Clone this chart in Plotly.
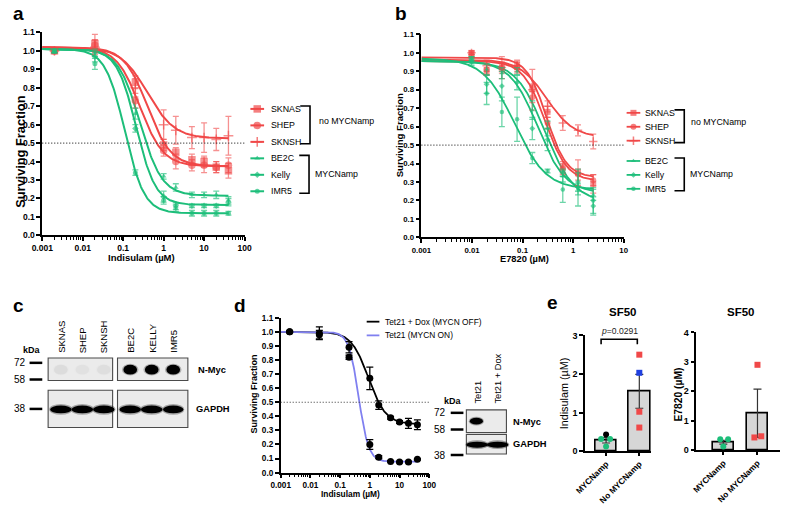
import numpy as np
import plotly.graph_objects as go

W, H = 788, 510
FONT = "Liberation Sans, Arial, sans-serif"
RED = "#F04848"
GREEN = "#1DBE7A"
RED_T = "rgba(240,72,72,0.6)"
GREEN_T = "rgba(29,190,122,0.65)"
BLUE = "#8080F0"

# ---------------- Data ----------------
cell_lines = ["SKNAS", "SHEP", "SKNSH", "BE2C", "Kelly", "IMR5"]
cell_groups = ["no MYCNamp", "no MYCNamp", "no MYCNamp", "MYCNamp", "MYCNamp", "MYCNamp"]

# panel a: Indisulam
conc_a = [0.002, 0.02, 0.2, 1, 2, 5, 10, 20, 40]
ind_SKNAS = [1.00, 1.04, 0.83, 0.49, 0.45, 0.41, 0.40, 0.37, 0.35]
ind_SHEP = [1.00, 1.03, 0.73, 0.46, 0.40, 0.38, 0.38, 0.37, 0.38]
ind_SKNSH = [1.00, 1.02, 0.80, 0.60, 0.57, 0.53, 0.53, 0.52, 0.54]
ind_BE2C = [1.00, 0.99, 0.66, 0.32, 0.26, 0.22, 0.22, 0.22, 0.19]
ind_Kelly = [1.00, 0.97, 0.58, 0.21, 0.16, 0.16, 0.16, 0.16, 0.18]
ind_IMR5 = [1.00, 0.93, 0.34, 0.19, 0.15, 0.12, 0.12, 0.12, 0.12]
ind_SKNAS_err = [0.01, 0.05, 0.035, 0.03, 0.025, 0.03, 0.03, 0.03, 0.04]
ind_SHEP_err = [0.01, 0.03, 0.04, 0.03, 0.04, 0.03, 0.04, 0.03, 0.04]
ind_SKNSH_err = [0.01, 0.04, 0.05, 0.08, 0.075, 0.06, 0.08, 0.06, 0.105]
ind_BE2C_err = [0.01, 0.02, 0.03, 0.015, 0.02, 0.015, 0.015, 0.02, 0.02]
ind_Kelly_err = [0.01, 0.03, 0.02, 0.03, 0.02, 0.01, 0.01, 0.01, 0.02]
ind_IMR5_err = [0.01, 0.03, 0.015, 0.02, 0.02, 0.015, 0.015, 0.015, 0.01]
# fitted curve parameters (top, bottom, IC50, Hill)
ind_top = [1.02, 1.02, 1.02, 1.01, 1.01, 1.01]
ind_bottom = [0.375, 0.375, 0.525, 0.215, 0.165, 0.12]
ind_ic50 = [0.40, 0.26, 0.40, 0.26, 0.21, 0.11]
ind_hill = [1.5, 1.5, 1.3, 1.6, 1.8, 1.8]

# panel b: E7820
conc_b = [0.0098, 0.0195, 0.039, 0.078, 0.156, 0.3125, 0.625, 1.25, 2.5]
e78_SKNAS = [1.00, 0.90, 0.92, 0.93, 0.81, 0.68, 0.38, 0.35, 0.29]
e78_SHEP = [0.99, 0.91, 0.92, 0.92, 0.76, 0.62, 0.37, 0.34, 0.31]
e78_SKNSH = [1.00, 0.93, 0.92, 0.93, 0.80, 0.71, 0.62, 0.58, 0.52]
e78_BE2C = [0.97, 0.91, 0.89, 0.90, 0.69, 0.59, 0.33, 0.26, 0.23]
e78_Kelly = [0.96, 0.83, 0.82, 0.84, 0.59, 0.53, 0.35, 0.30, 0.17]
e78_IMR5 = [0.95, 0.78, 0.68, 0.64, 0.43, 0.36, 0.26, 0.27, 0.20]
e78_SKNAS_err = [0.01, 0.02, 0.06, 0.03, 0.02, 0.03, 0.03, 0.07, 0.05]
e78_SHEP_err = [0.01, 0.03, 0.03, 0.03, 0.03, 0.03, 0.03, 0.03, 0.03]
e78_SKNSH_err = [0.01, 0.03, 0.02, 0.02, 0.11, 0.03, 0.04, 0.03, 0.04]
e78_BE2C_err = [0.01, 0.03, 0.03, 0.02, 0.05, 0.04, 0.03, 0.03, 0.03]
e78_Kelly_err = [0.02, 0.05, 0.08, 0.04, 0.06, 0.06, 0.02, 0.05, 0.05]
e78_IMR5_err = [0.02, 0.06, 0.08, 0.12, 0.03, 0.01, 0.07, 0.10, 0.07]
e78_top = [0.975, 0.955, 0.965, 0.955, 0.955, 0.97]
e78_bottom = [0.325, 0.305, 0.54, 0.24, 0.19, 0.26]
e78_ic50 = [0.30, 0.28, 0.30, 0.20, 0.28, 0.07]
e78_hill = [2.2, 2.0, 1.6, 1.6, 1.5, 1.4]

# panel d: Tet21
conc_d = [0.002, 0.02, 0.2, 1, 2, 5, 10, 20, 40]
tet_names = ["Tet21 + Dox (MYCN OFF)", "Tet21 (MYCN ON)"]
tet_off = [1.00, 0.99, 0.89, 0.67, 0.48, 0.39, 0.36, 0.35, 0.34]
tet_off_err = [0.005, 0.045, 0.04, 0.08, 0.03, 0.01, 0.01, 0.035, 0.035]
tet_on = [1.00, 0.98, 0.82, 0.20, 0.11, 0.08, 0.075, 0.075, 0.095]
tet_on_err = [0.005, 0.03, 0.015, 0.035, 0.01, 0.005, 0.005, 0.005, 0.005]
tet_top = [1.0, 1.0]
tet_bottom = [0.345, 0.078]
tet_ic50 = [0.90, 0.42]
tet_hill = [1.5, 2.6]

# panel e: SF50
e_categories = ["MYCNamp", "No MYCNamp"]
sf50_ind_mean = [0.28, 1.55]
sf50_ind_sem = [0.07, 0.44]
sf50_ind_mycn = [0.43, 0.31, 0.31, 0.12]
sf50_ind_mycn_colors = ["black", GREEN, GREEN, GREEN]
sf50_ind_nomycn = [2.50, 2.03, 1.02, 0.61]
sf50_ind_nomycn_colors = [RED, "#1F3FE0", RED, RED]
sf50_e78_mean = [0.27, 1.25]
sf50_e78_sem = [0.065, 0.82]
sf50_e78_mycn = [0.37, 0.37, 0.12]
sf50_e78_nomycn = [2.90, 0.43, 0.47]
p_value_text = "=0.0291"

# western blots
blot_c_lanes = ["SKNAS", "SHEP", "SKNSH", "BE2C", "KELLY", "IMR5"]
blot_c_nmyc = [0.05, 0.03, 0.04, 1.0, 1.0, 1.0]
blot_c_gapdh = [1.0, 1.0, 1.0, 1.0, 1.0, 0.95]
blot_d_lanes = ["Tet21", "Tet21 + Dox"]
blot_d_nmyc = [1.0, 0.0]
blot_d_gapdh = [1.0, 1.0]
kda_c = ["72", "58", "38"]
kda_d = ["72", "58", "38"]

# ---------------- helpers ----------------
def fx(p):
    return p / W


def fy(p):
    return 1 - p / H


def fourpl(x, top, bottom, ic50, hill):
    return bottom + (top - bottom) / (1 + (x / ic50) ** hill)


fig = go.Figure()

series_a = [ind_SKNAS, ind_SHEP, ind_SKNSH, ind_BE2C, ind_Kelly, ind_IMR5]
err_a = [ind_SKNAS_err, ind_SHEP_err, ind_SKNSH_err, ind_BE2C_err, ind_Kelly_err, ind_IMR5_err]
series_b = [e78_SKNAS, e78_SHEP, e78_SKNSH, e78_BE2C, e78_Kelly, e78_IMR5]
err_b = [e78_SKNAS_err, e78_SHEP_err, e78_SKNSH_err, e78_BE2C_err, e78_Kelly_err, e78_IMR5_err]
symbols = ["square", "circle", "cross-thin", "triangle-up", "diamond", "circle"]
sizes_a = [7.5, 7.5, 7, 5, 5, 5]
sizes_b = [6, 6, 6, 4.5, 4.5, 4.5]


def col(i):
    return RED if cell_groups[i] == "no MYCNamp" else GREEN


def colt(i):
    return RED_T if cell_groups[i] == "no MYCNamp" else GREEN_T


def add_curve_panel(xa, ya, conc, series, errs, tops, bots, ics, hills, sizes, xmax, lw):
    xf = np.logspace(-3, np.log10(xmax), 250)
    for i, name in enumerate(cell_lines):
        fig.add_trace(go.Scatter(
            x=xf, y=fourpl(xf, tops[i], bots[i], ics[i], hills[i]), mode="lines",
            line=dict(color=col(i), width=lw), xaxis=xa, yaxis=ya, showlegend=False,
            hoverinfo="skip", cliponaxis=False))
    for i, name in enumerate(cell_lines):
        fig.add_trace(go.Scatter(
            x=conc, y=series[i], mode="markers", name=name,
            marker=dict(symbol=symbols[i], size=sizes[i], color=colt(i),
                        line=dict(color=colt(i), width=1.5 if symbols[i] == "cross-thin" else 0)),
            error_y=dict(type="data", array=errs[i], color=colt(i), thickness=1.3, width=3),
            xaxis=xa, yaxis=ya, showlegend=False, cliponaxis=False))


add_curve_panel("x", "y", conc_a, series_a, err_a, ind_top, ind_bottom, ind_ic50, ind_hill, sizes_a, 40, 2)
add_curve_panel("x2", "y2", conc_b, series_b, err_b, e78_top, e78_bottom, e78_ic50, e78_hill, sizes_b, 2.5, 1.8)

# panel d
xf = np.logspace(-3, np.log10(40), 250)
tet_series = [tet_off, tet_on]
tet_errs = [tet_off_err, tet_on_err]
tet_cols = ["black", BLUE]
for i in range(2):
    fig.add_trace(go.Scatter(x=xf, y=fourpl(xf, tet_top[i], tet_bottom[i], tet_ic50[i], tet_hill[i]),
                             mode="lines", line=dict(color=tet_cols[i], width=1.8), xaxis="x3", yaxis="y3",
                             showlegend=False, hoverinfo="skip", cliponaxis=False))
for i in range(2):
    fig.add_trace(go.Scatter(x=conc_d, y=tet_series[i], mode="markers",
                             marker=dict(symbol="circle", size=7, color="black"),
                             error_y=dict(type="data", array=tet_errs[i], color="black", thickness=1.3, width=3.5),
                             xaxis="x3", yaxis="y3", showlegend=False, cliponaxis=False))

# panel e
BAR_FILL = "#D6D6D6"
mycn_jit_e1 = [0.0, -0.15, 0.12, 0.0]
nomycn_jit_e1 = [0.0, 0.0, 0.0, 0.0]
mycn_jit_e2 = [-0.09, 0.14, 0.0]
nomycn_jit_e2 = [0.0, -0.09, 0.11]
for xa, ya, means, sems, width in [("x4", "y4", sf50_ind_mean, sf50_ind_sem, 0.65),
                                    ("x5", "y5", sf50_e78_mean, sf50_e78_sem, 0.63)]:
    fig.add_trace(go.Bar(x=[0, 1], y=means, width=width, marker=dict(color=BAR_FILL, line=dict(color="black", width=1.6)),
                         error_y=dict(type="data", array=sems, color="#333", thickness=1.2, width=4),
                         xaxis=xa, yaxis=ya, showlegend=False))
fig.add_trace(go.Scatter(x=[0 + j for j in mycn_jit_e1], y=sf50_ind_mycn, mode="markers",
                         marker=dict(symbol="circle", size=6, color=sf50_ind_mycn_colors),
                         xaxis="x4", yaxis="y4", showlegend=False, cliponaxis=False))
fig.add_trace(go.Scatter(x=[1 + j for j in nomycn_jit_e1], y=sf50_ind_nomycn, mode="markers",
                         marker=dict(symbol="square", size=6, color=sf50_ind_nomycn_colors),
                         xaxis="x4", yaxis="y4", showlegend=False, cliponaxis=False))
fig.add_trace(go.Scatter(x=[0 + j for j in mycn_jit_e2], y=sf50_e78_mycn, mode="markers",
                         marker=dict(symbol="circle", size=6, color=GREEN),
                         xaxis="x5", yaxis="y5", showlegend=False, cliponaxis=False))
fig.add_trace(go.Scatter(x=[1 + j for j in nomycn_jit_e2], y=sf50_e78_nomycn, mode="markers",
                         marker=dict(symbol="square", size=6, color=RED),
                         xaxis="x5", yaxis="y5", showlegend=False, cliponaxis=False))

shapes = []
annotations = []


def ann(x, y, text, size=9, bold=False, xanchor="center", yanchor="middle", angle=0, xref="x6", yref="y6",
        color="black"):
    annotations.append(dict(x=x, y=y, xref=xref, yref=yref, text=text, showarrow=False, xanchor=xanchor,
                            yanchor=yanchor, textangle=angle,
                            font=dict(family=FONT, size=size, color=color, weight="bold" if bold else "normal"),
                            borderpad=0))


# ---------------- manual legends (pixel overlay axis x6/y6) ----------------
def curve_legend(mx, text_x, row0, step, gap, sizes, br_x, gtext_x, lw):
    rows = []
    for i, name in enumerate(cell_lines):
        gi = 0 if cell_groups[i] == "no MYCNamp" else 1
        ry = row0 + step * i + gap * gi
        rows.append(ry)
        fig.add_trace(go.Scatter(x=[mx - 7, mx, mx + 7], y=[ry, ry, ry], mode="lines+markers",
                                 line=dict(color=col(i), width=lw),
                                 marker=dict(symbol=symbols[i], size=[0, sizes[i], 0], color=col(i),
                                             line=dict(color=col(i), width=1.5 if symbols[i] == "cross-thin" else 0)),
                                 xaxis="x6", yaxis="y6", showlegend=False, hoverinfo="skip"))
        ann(text_x, ry, name, size=8.8, xanchor="left")
    for g, label in enumerate(["no MYCNamp", "MYCNamp"]):
        r = [rows[i] for i in range(6) if (cell_groups[i] == label)]
        y0, y1 = r[0] - 3, r[-1] + 2
        shapes.append(dict(type="path", xref="x6", yref="y6",
                           path=f"M {br_x[g] - 10},{y0} L {br_x[g]},{y0} L {br_x[g]},{y1} L {br_x[g] - 10},{y1}",
                           line=dict(color="black", width=1.6)))
        ann(gtext_x[g], (y0 + y1) / 2 - 4 + 4 * g, label, size=8.8, xanchor="left")


curve_legend(252, 265, 106, 16.8, 0, [7.5, 7.5, 7, 5, 5, 5], [306, 305], [314, 310], 2)
curve_legend(637, 648, 110, 14.2, 6.5, [6, 6, 6, 4.5, 4.5, 4.5], [689, 689], [695, 694], 1.8)

# panel d legend
for i in range(2):
    ry = 323 + 14 * i
    fig.add_trace(go.Scatter(x=[364, 377], y=[ry, ry], mode="lines", line=dict(color=tet_cols[i], width=1.8),
                             xaxis="x6", yaxis="y6", showlegend=False, hoverinfo="skip"))
    ann(382, ry, tet_names[i], size=8.4, xanchor="left")

# ---------------- western blot c ----------------
c_x0, c_step, c_gap = 51, 22, 5
lane_x_c = [c_x0 + c_step * i + (c_gap if i >= 3 else 0) for i in range(len(blot_c_lanes))]
BOX_FILL = "#EBEBEB"
for (bx0, bx1) in [(38, 104), (109, 181)]:
    for (by0, by1) in [(360, 383), (393, 431)]:
        shapes.append(dict(type="rect", xref="x6", yref="y6", x0=bx0, x1=bx1, y0=by0, y1=by1,
                           fillcolor=BOX_FILL, line=dict(color="#4A4A4A", width=1.1), layer="below"))
for i, lx in enumerate(lane_x_c):
    ann(lx, 356, blot_c_lanes[i], size=9.5, angle=-90, yanchor="bottom")
    a = blot_c_nmyc[i]
    if a > 0:
        shapes.append(dict(type="circle", xref="x6", yref="y6", x0=lx - 8.5, x1=lx + 8.5, y0=366, y1=378,
                           fillcolor="black", opacity=0.25 * a, line=dict(width=0)))
        shapes.append(dict(type="circle", xref="x6", yref="y6", x0=lx - 7, x1=lx + 7, y0=367, y1=377,
                           fillcolor="black", opacity=a, line=dict(width=0)))
    g = blot_c_gapdh[i]
    shapes.append(dict(type="circle", xref="x6", yref="y6", x0=lx - 12 * g, x1=lx + 12 * g, y0=407, y1=418,
                       fillcolor="black", opacity=0.3, line=dict(width=0)))
    shapes.append(dict(type="circle", xref="x6", yref="y6", x0=lx - 11 * g, x1=lx + 11 * g, y0=408.5, y1=416.5,
                       fillcolor="black", opacity=1, line=dict(width=0)))
ann(21, 352, "kDa", size=9, bold=True)
for k, yy in zip(kda_c, [365, 382, 412]):
    ann(16, yy, k, size=10, xanchor="right")
    shapes.append(dict(type="line", xref="x6", yref="y6", x0=19, x1=32, y0=yy, y1=yy,
                       line=dict(color="black", width=2.5)))
ann(190, 372, "N-Myc", size=9.3, bold=True, xanchor="left")
ann(188, 412, "GAPDH", size=9.3, bold=True, xanchor="left")

# ---------------- western blot d inset ----------------
lane_x_d = [477, 498]
for (by0, by1) in [(413, 436), (438, 458)]:
    shapes.append(dict(type="rect", xref="x6", yref="y6", x0=466, x1=507, y0=by0, y1=by1,
                       fillcolor=BOX_FILL, line=dict(color="#4A4A4A", width=1.1), layer="below"))
for i, lx in enumerate(lane_x_d):
    ann(lx, 408, blot_d_lanes[i], size=9.3, angle=-90, yanchor="bottom")
    a = blot_d_nmyc[i]
    if a > 0:
        shapes.append(dict(type="circle", xref="x6", yref="y6", x0=lx - 8.5, x1=lx + 7, y0=420, y1=429,
                           fillcolor="black", opacity=0.3 * a, line=dict(width=0)))
        shapes.append(dict(type="circle", xref="x6", yref="y6", x0=lx - 7.5, x1=lx + 6, y0=421, y1=428,
                           fillcolor="black", opacity=a, line=dict(width=0)))
    g = blot_d_gapdh[i]
    shapes.append(dict(type="circle", xref="x6", yref="y6", x0=lx - 12 * g, x1=lx + 12 * g, y0=444, y1=453,
                       fillcolor="black", opacity=0.35, line=dict(width=0)))
    shapes.append(dict(type="circle", xref="x6", yref="y6", x0=lx - 11 * g, x1=lx + 11 * g, y0=445.5, y1=451.5,
                       fillcolor="black", opacity=1, line=dict(width=0)))
ann(452, 404, "kDa", size=9, bold=True)
for k, yy in zip(kda_d, [416, 433, 459]):
    ann(446, yy, k, size=10, xanchor="right")
    shapes.append(dict(type="line", xref="x6", yref="y6", x0=450, x1=463, y0=yy, y1=yy,
                       line=dict(color="black", width=2.5)))
ann(513, 425, "N-Myc", size=9.3, bold=True, xanchor="left")
ann(513, 448, "GAPDH", size=9.3, bold=True, xanchor="left")

# ---------------- dotted SF=0.5 lines ----------------
for xa, ya in [("x", "y"), ("x2", "y2"), ("x3", "y3")]:
    shapes.append(dict(type="line", xref=f"{xa} domain", yref=ya, x0=0, x1=1, y0=0.5, y1=0.5,
                       line=dict(color="#333", width=1.2, dash="1px,2px")))

# p-value bracket (panel e)
shapes.append(dict(type="path", xref="x4", yref="y4",
                   path="M -0.15,2.77 L -0.15,2.9 L 0.94,2.9 L 0.94,2.77",
                   line=dict(color="black", width=1.6)))
ann(623, 333, "<i>p</i>" + p_value_text, size=8.6, color="#222")

# axis titles & panel titles
ann(9, 149, "Surviving Fraction", size=12.8, bold=True, angle=-90)
ann(134, 258, "Indisulam (µM)", size=9.5, bold=True)
ann(397, 133, "Surviving Fraction", size=9.6, bold=True, angle=-90)
ann(525, 259, "E7820 (µM)", size=9.3, bold=True)
ann(249, 397, "Surviving Fraction", size=9, bold=True, angle=-90)
ann(347, 499, "Indisulam (µM)", size=8.4, bold=True)
ann(566, 396, "Indisulam (µM)", size=10.8, angle=-90)
ann(683, 397, "E7820 (µM)", size=10.3, bold=True, angle=-90)
ann(626, 313, "SF50", size=11.5, bold=True)
ann(747, 313, "SF50", size=11.5, bold=True)
for lab, x, y in [("a", 1, 9), ("b", 392, 9), ("c", 1, 307), ("d", 227, 307), ("e", 548, 303)]:
    ann(x, y, lab, size=19, bold=True, xanchor="left")


# ---------------- axes ----------------
def log_xaxis(p0, p1, lo, hi, fs, anchor):
    tv = [10.0 ** e for e in range(lo, hi + 1)]
    tt = [f"{v:g}" if v < 1 else f"{int(v)}" for v in tv]
    minor = [m * 10.0 ** e for e in range(lo, hi) for m in range(2, 10)]
    return dict(type="log", domain=[fx(p0), fx(p1)], range=[lo, hi], tickvals=tv, ticktext=tt,
                ticks="outside", ticklen=4, tickwidth=1.5, tickcolor="black",
                showline=True, linecolor="black", linewidth=1.6, showgrid=False, zeroline=False,
                tickfont=dict(family=FONT, size=fs, color="black", weight="bold"),
                minor=dict(tickvals=minor, ticks="outside", ticklen=2.5, tickwidth=1, tickcolor="black",
                           showgrid=False),
                anchor=anchor, fixedrange=True)


def sf_yaxis(p_top, p_bot, fs, anchor):
    tv = [round(0.1 * i, 1) for i in range(12)]
    return dict(domain=[fy(p_bot), fy(p_top)], range=[0, 1.1], tickvals=tv, ticktext=[f"{v:.1f}" for v in tv],
                ticks="outside", ticklen=4, tickwidth=1.5, tickcolor="black", showline=True, linecolor="black",
                linewidth=1.6, showgrid=False, zeroline=False,
                tickfont=dict(family=FONT, size=fs, color="black", weight="bold"), anchor=anchor, fixedrange=True)


def cat_xaxis(p0, p1, r0, r1, anchor):
    return dict(domain=[fx(p0), fx(p1)], range=[r0, r1], tickvals=[0, 1], ticktext=e_categories, tickangle=-45,
                ticks="outside", ticklen=3, tickwidth=1.5, tickcolor="black", showline=True, linecolor="black",
                linewidth=1.6, showgrid=False, zeroline=False,
                tickfont=dict(family=FONT, size=8.4, color="black", weight="bold"), anchor=anchor, fixedrange=True)


def lin_yaxis(p_top, p_bot, top, anchor):
    return dict(domain=[fy(p_bot), fy(p_top)], range=[0, top], tickvals=list(range(top + 1)),
                ticks="outside", ticklen=3.5, tickwidth=1.5, tickcolor="black", showline=True, linecolor="black",
                linewidth=1.6, showgrid=False, zeroline=False,
                tickfont=dict(family=FONT, size=9, color="black", weight="bold"), anchor=anchor, fixedrange=True)


fig.update_layout(
    width=W, height=H, margin=dict(l=0, r=0, t=0, b=0), paper_bgcolor="white", plot_bgcolor="rgba(0,0,0,0)",
    showlegend=False, font=dict(family=FONT, color="black"),
    xaxis=log_xaxis(32, 239, -3, 2, 8.5, "y"),
    yaxis=sf_yaxis(28, 235, 8.5, "x"),
    xaxis2=log_xaxis(420, 627, -3, 1, 7.8, "y2"),
    yaxis2=sf_yaxis(30, 237, 7.8, "x2"),
    xaxis3=log_xaxis(276, 428, -3, 2, 8.2, "y3"),
    yaxis3=sf_yaxis(319, 477, 8.2, "x3"),
    xaxis4=cat_xaxis(587, 655, -0.647, 1.353, "y4"),
    yaxis4=lin_yaxis(337, 455, 3, "x4"),
    xaxis5=cat_xaxis(701, 787, -0.8, 1.66, "y5"),
    yaxis5=lin_yaxis(334, 454, 4, "x5"),
    xaxis6=dict(domain=[0, 1], range=[0, W], visible=False, anchor="y6", fixedrange=True),
    yaxis6=dict(domain=[0, 1], range=[H, 0], visible=False, anchor="x6", fixedrange=True),
    shapes=shapes, annotations=annotations, bargap=0,
)

fig.write_html("out.html", config={"displayModeBar": False},
               post_script="document.body.style.margin='0';document.body.style.overflow='hidden';")
